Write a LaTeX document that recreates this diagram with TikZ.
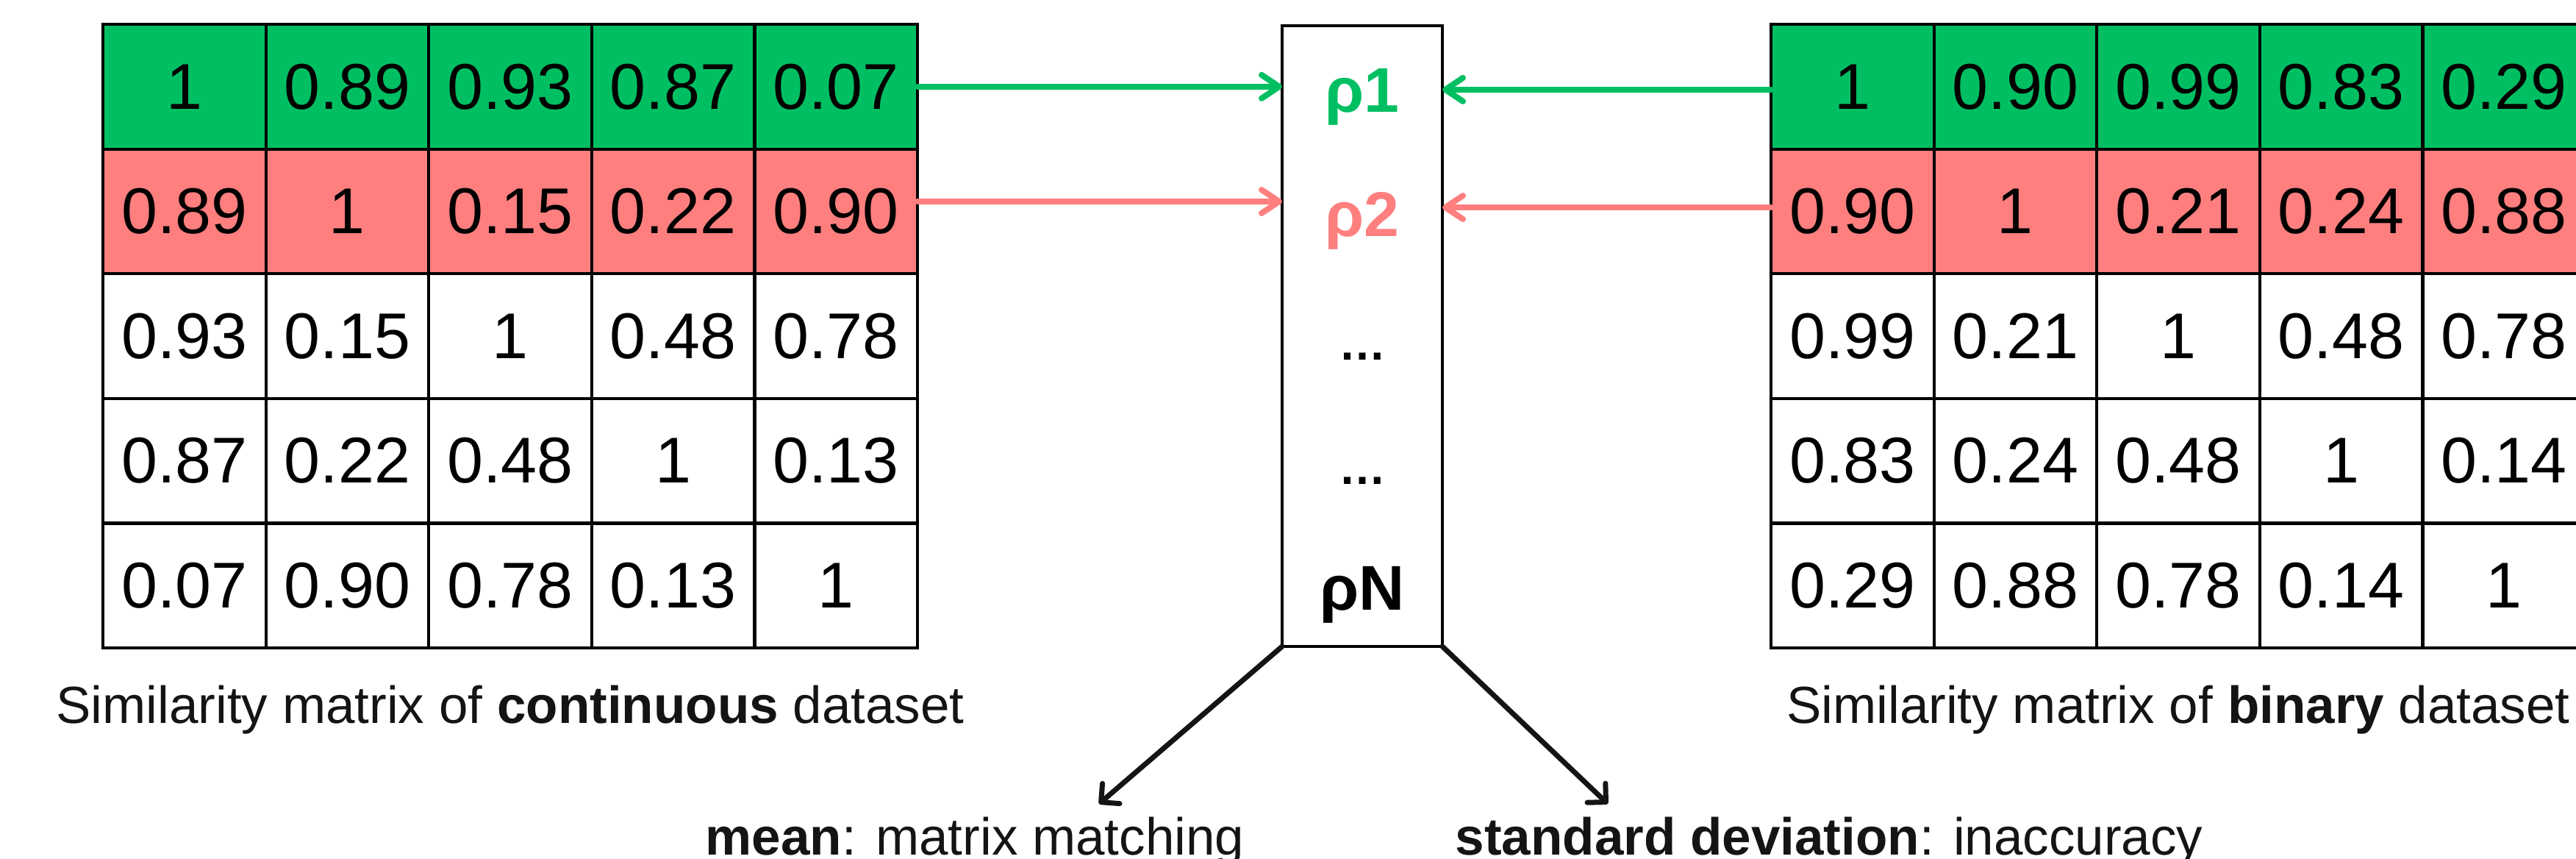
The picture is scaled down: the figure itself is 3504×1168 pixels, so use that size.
\documentclass[tikz,border=0pt]{standalone}
\usepackage{fontspec}
\setmainfont{Liberation Sans}
\usetikzlibrary{arrows.meta,calc}

\definecolor{rowgreen}{HTML}{00BF63}
\definecolor{rowred}{HTML}{FF7F7F}
\definecolor{inktext}{HTML}{141414}

\tikzset{
  cell/.style={draw=black, line width=1.05pt, minimum width=55.4pt, minimum height=42.4pt,
    inner sep=0pt, outer sep=0pt, font=\fontsize{22pt}{26pt}\selectfont},
  rholabel/.style={inner sep=0pt, font=\fontsize{21.5pt}{26pt}\selectfont\bfseries},
  caption/.style={inner sep=0pt, text=inktext, font=\fontsize{17.75pt}{21pt}\selectfont},
  feed/.style={line width=2pt, line cap=round, -{Straight Barb[length=6pt,width=8pt,round]}},
  stat/.style={line width=1.75pt, draw=inktext, line cap=round, -{Straight Barb[length=4.5pt,width=9pt,round]}}
}

\begin{document}
\begin{tikzpicture}[x=0.25pt,y=-0.25pt]
\useasboundingbox (0,0) rectangle (3504,1168);
\clip (0,0) rectangle (3504,1168);

% similarity matrix of the continuous dataset
\foreach \row [count=\i] in {{1,0.89,0.93,0.87,0.07},{0.89,1,0.15,0.22,0.90},{0.93,0.15,1,0.48,0.78},{0.87,0.22,0.48,1,0.13},{0.07,0.90,0.78,0.13,1}} {
  \ifnum\i=1 \def\fc{rowgreen}\else\ifnum\i=2 \def\fc{rowred}\else\def\fc{white}\fi\fi
  \foreach \v [count=\j] in \row {
    \node[cell, fill=\fc] (L-\i-\j) at ({140+221.6*(\j-0.5)},{33+169.6*(\i-0.5)}) {\v};
  }
}

% similarity matrix of the binary dataset
\foreach \row [count=\i] in {{1,0.90,0.99,0.83,0.29},{0.90,1,0.21,0.24,0.88},{0.99,0.21,1,0.48,0.78},{0.83,0.24,0.48,1,0.14},{0.29,0.88,0.78,0.14,1}} {
  \ifnum\i=1 \def\fc{rowgreen}\else\ifnum\i=2 \def\fc{rowred}\else\def\fc{white}\fi\fi
  \foreach \v [count=\j] in \row {
    \node[cell, fill=\fc] (R-\i-\j) at ({2409+221.6*(\j-0.5)},{33+169.6*(\i-0.5)}) {\v};
  }
}

% captions
\node[caption, anchor=base] (capL) at (694,983) {Similarity matrix of \textbf{continuous} dataset};
\node[caption, anchor=base] (capR) at (2963,983) {Similarity matrix of \textbf{binary} dataset};

% column of correlations
\node[draw=black, line width=1pt, minimum width=54.5pt, minimum height=211pt,
      inner sep=0pt, outer sep=0pt] (rho) at (1853,457) {};
\node[rholabel, text=rowgreen, anchor=base] (p1) at (1853,152) {ρ1};
\node[rholabel, text=rowred, anchor=base] (p2) at (1853,321) {ρ2};
\node[rholabel, anchor=base, font=\fontsize{16pt}{20pt}\selectfont\bfseries] (d1) at (1853,489) {…};
\node[rholabel, anchor=base, font=\fontsize{16pt}{20pt}\selectfont\bfseries] (d2) at (1853,658) {…};
\node[rholabel, anchor=base] (pN) at (1853,829) {ρN};

% start points of the row arrows
\coordinate (outL1) at (L-1-5.east);
\coordinate (outL2) at ([yshift=3.35pt]L-2-5.east);
\coordinate (outR1) at ([yshift=-1pt]R-1-1.west);
\coordinate (outR2) at ([yshift=1.35pt]R-2-1.west);

% rows feeding the correlations
\draw[feed, rowgreen] (outL1) -- (rho.west |- outL1);
\draw[feed, rowred] (outL2) -- (rho.west |- outL2);
\draw[feed, rowgreen] (outR1) -- (rho.east |- outR1);
\draw[feed, rowred] (outR2) -- (rho.east |- outR2);

% summary statistics
\coordinate (meanTip) at (1495,1093);
\coordinate (sdTip) at (2187,1093);
\draw[stat] (rho.south west) -- (meanTip);
\draw[stat] (rho.south east) -- (sdTip);
\node[caption, anchor=base west] (meanTxt) at (959,1162) {\textbf{mean}: matrix matching};
\node[caption, anchor=base west] (sdTxt) at (1979,1162) {\textbf{standard deviation}: inaccuracy};
\end{tikzpicture}
\end{document}
